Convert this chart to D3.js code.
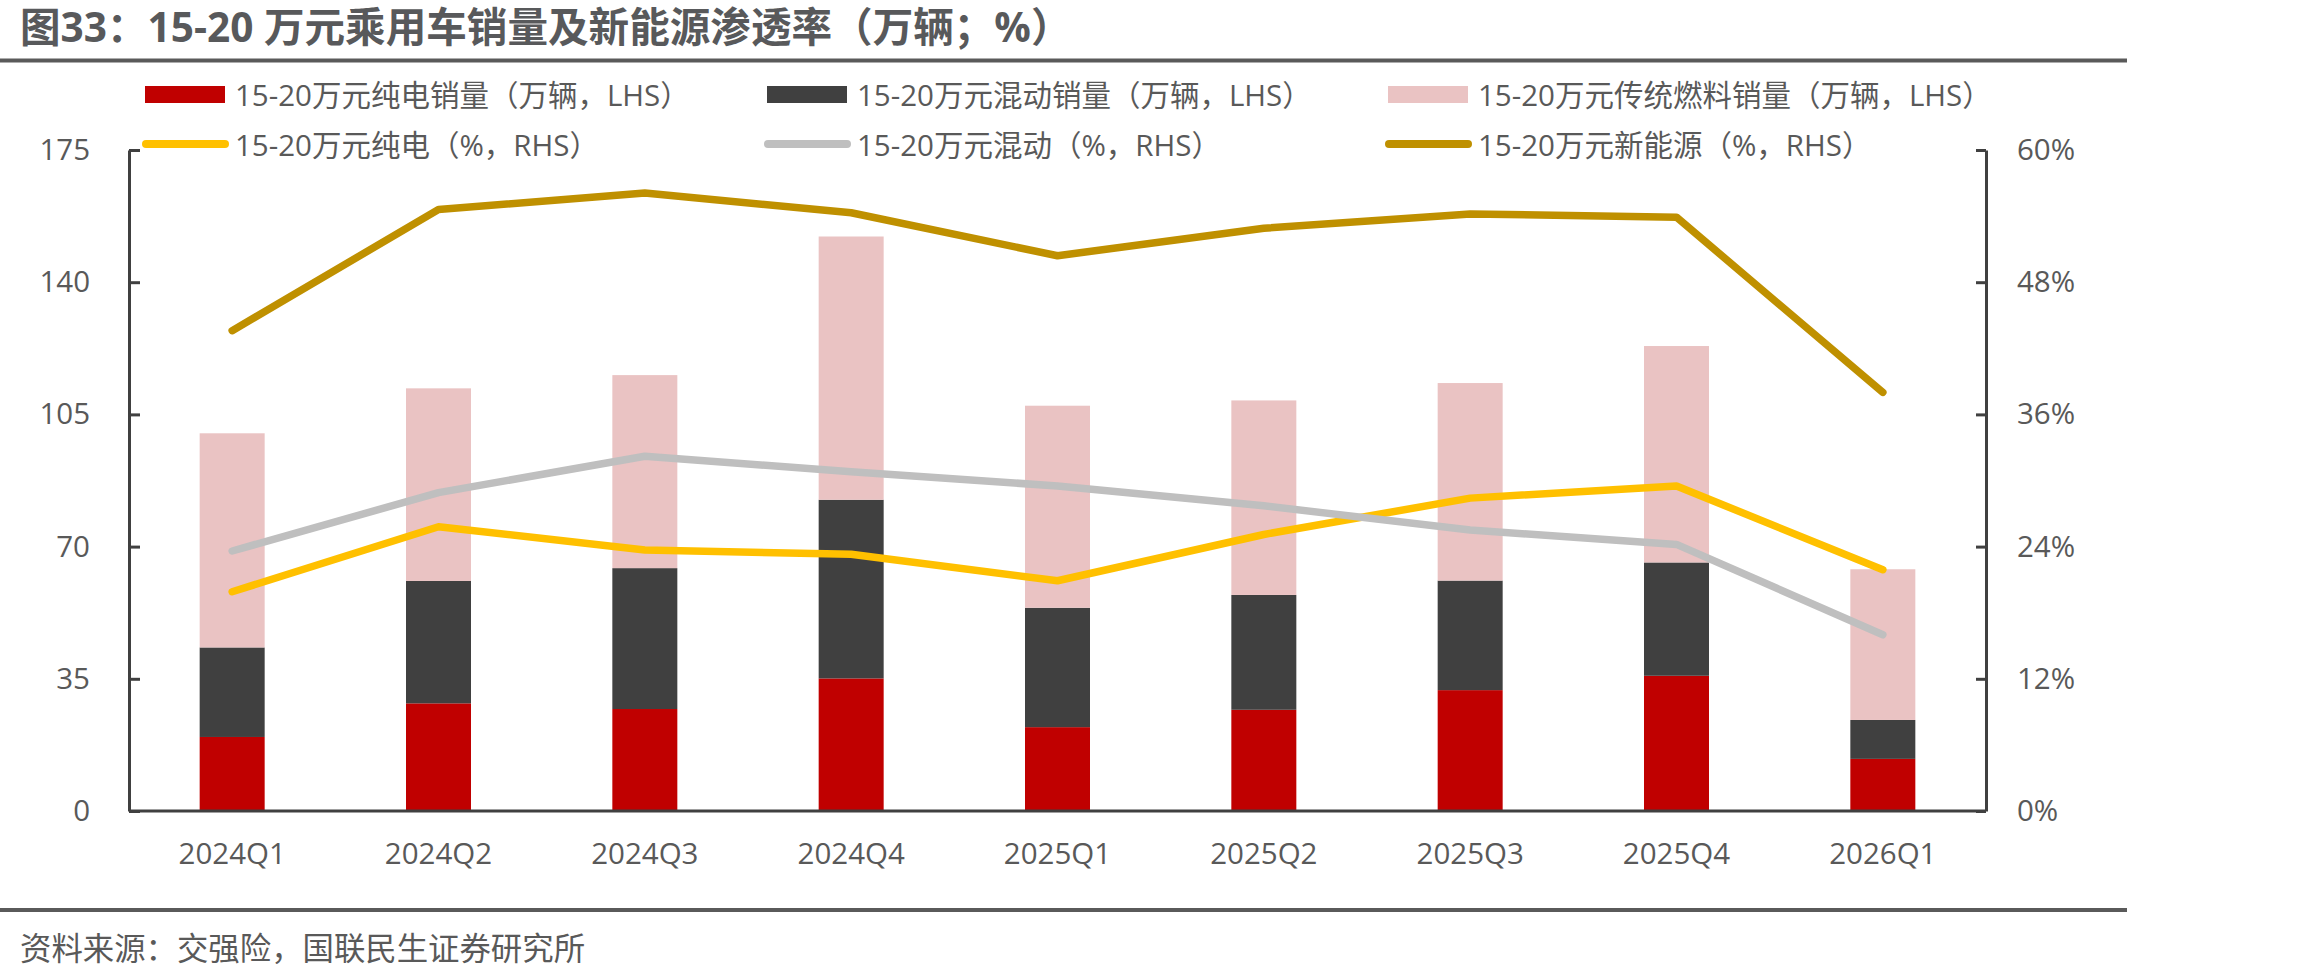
<!DOCTYPE html>
<html>
<head>
<meta charset="utf-8">
<script src="https://cdn.jsdelivr.net/npm/d3@7"></script>
<style>
  html, body { margin: 0; padding: 0; background: #fff; }
  svg { display: block; }
  text { font-family: "Open Sans", "Noto Sans CJK SC", sans-serif; fill: #595959; }
</style>
</head>
<body>
<svg id="chart" width="2310" height="977"></svg>
<script>
// ---------------- data ----------------
const categories = ["2024Q1","2024Q2","2024Q3","2024Q4","2025Q1","2025Q2","2025Q3","2025Q4","2026Q1"];
// sales, 万辆 (LHS)
const bevSales    = [19.6, 28.5, 27.0, 35.1, 22.2, 26.8, 32.0, 35.8, 13.8];
const hybridSales = [23.7, 32.4, 37.3, 47.3, 31.6, 30.4, 29.0, 30.0, 10.3];
const iceSales    = [56.7, 51.0, 51.1, 69.7, 53.5, 51.5, 52.3, 57.3, 39.9];
// penetration, % (RHS)
const bevShare    = [19.9, 25.8, 23.7, 23.3, 20.9, 25.1, 28.4, 29.5, 21.9];
const hybridShare = [23.6, 28.9, 32.2, 30.8, 29.5, 27.7, 25.5, 24.2, 16.0];
const nevShare    = [43.6, 54.6, 56.1, 54.3, 50.4, 52.9, 54.2, 53.9, 38.0];
// ticks
const leftTicks  = [0, 35, 70, 105, 140, 175];
const rightTicks = [0, 12, 24, 36, 48, 60];

const titleText  = "图33：15-20 万元乘用车销量及新能源渗透率（万辆；%）";
const sourceText = "资料来源：交强险，国联民生证券研究所";

const barSeries = [
  { key: "bev",    name: "15-20万元纯电销量（万辆，LHS）",     color: "#C00000", values: bevSales },
  { key: "hybrid", name: "15-20万元混动销量（万辆，LHS）",     color: "#404040", values: hybridSales },
  { key: "ice",    name: "15-20万元传统燃料销量（万辆，LHS）", color: "#EAC3C3", values: iceSales }
];
const lineSeries = [
  { key: "bevP",    name: "15-20万元纯电（%，RHS）",   color: "#FFC000", values: bevShare },
  { key: "hybridP", name: "15-20万元混动（%，RHS）",   color: "#BFBFBF", values: hybridShare },
  { key: "nevP",    name: "15-20万元新能源（%，RHS）", color: "#BF9000", values: nevShare }
];

// ---------------- layout ----------------
const svg = d3.select("#chart");
const plot = { left: 129, right: 1986, top: 150, bottom: 811 };

const x = d3.scaleBand().domain(categories)
  .range([plot.left, plot.right]).paddingInner(0.685).paddingOuter(0.3425);
const yL = d3.scaleLinear().domain([0, 175]).range([plot.bottom, plot.top]);
const yR = d3.scaleLinear().domain([0, 60]).range([plot.bottom, plot.top]);

// title & rules
svg.append("text").attr("x", 20).attr("y", 26).attr("dominant-baseline", "central")
  .style("font-size", "40.6px").style("font-weight", "bold").style("fill", "#58595b")
  .text(titleText);
svg.append("line").attr("x1", 0).attr("x2", 2127).attr("y1", 60.5).attr("y2", 60.5)
  .attr("stroke", "#5a5a5a").attr("stroke-width", 4);
svg.append("line").attr("x1", 0).attr("x2", 2127).attr("y1", 910).attr("y2", 910)
  .attr("stroke", "#5a5a5a").attr("stroke-width", 4);
svg.append("text").attr("x", 20).attr("y", 947).attr("dominant-baseline", "central")
  .style("font-size", "31.4px").text(sourceText);

// stacked bars
const rows = categories.map((c, i) => ({ cat: c, bev: bevSales[i], hybrid: hybridSales[i], ice: iceSales[i] }));
const stacked = d3.stack().keys(barSeries.map(s => s.key))(rows);
svg.append("g").selectAll("g").data(stacked).join("g")
  .attr("fill", (d, i) => barSeries[i].color)
  .selectAll("rect").data(d => d).join("rect")
  .attr("x", d => x(d.data.cat))
  .attr("width", x.bandwidth())
  .attr("y", d => yL(d[1]))
  .attr("height", d => yL(d[0]) - yL(d[1]));

// axes
function styleAxis(g) {
  g.selectAll(".domain, .tick line").attr("stroke", "#404040").attr("stroke-width", 3);
  g.selectAll("text").style("font-size", "29.5px").style("fill", "#595959")
    .attr("font-family", null);
}
svg.append("g").attr("transform", `translate(${plot.left},0)`)
  .call(d3.axisLeft(yL).tickValues(leftTicks).tickSize(-11).tickSizeOuter(0).tickPadding(39))
  .call(styleAxis);
svg.append("g").attr("transform", `translate(${plot.right},0)`)
  .call(d3.axisRight(yR).tickValues(rightTicks).tickSize(-10).tickSizeOuter(0).tickPadding(31)
    .tickFormat(d => d + "%"))
  .call(styleAxis);
const xAxis = svg.append("g").attr("transform", `translate(0,${plot.bottom})`)
  .call(d3.axisBottom(x).tickSize(0).tickSizeOuter(0).tickPadding(0))
  .call(styleAxis);
xAxis.selectAll("text").attr("y", 43).attr("dy", "0.35em");
xAxis.select(".domain").attr("d", `M${plot.left},0H${plot.right}`);

// lines
const cx = c => x(c) + x.bandwidth() / 2;
const lineGen = d3.line().x((v, i) => cx(categories[i])).y(v => yR(v));
svg.append("g").selectAll("path").data(lineSeries).join("path")
  .attr("d", s => lineGen(s.values))
  .attr("fill", "none").attr("stroke", s => s.color)
  .attr("stroke-width", 7.5).attr("stroke-linecap", "round").attr("stroke-linejoin", "round");

// legend
const legendCols = [145, 767, 1388];
const legendRows = [94.5, 144];
const lg = svg.append("g");
barSeries.forEach((s, i) => {
  const gx = legendCols[i], gy = legendRows[0];
  lg.append("rect").attr("x", gx).attr("y", gy - 8.5).attr("width", 80).attr("height", 17).attr("fill", s.color);
  lg.append("text").attr("x", gx + 90).attr("y", gy).attr("dominant-baseline", "central")
    .style("font-size", "29.5px").text(s.name);
});
lineSeries.forEach((s, i) => {
  const gx = legendCols[i], gy = legendRows[1];
  lg.append("line").attr("x1", gx + 1).attr("x2", gx + 80).attr("y1", gy).attr("y2", gy)
    .attr("stroke", s.color).attr("stroke-width", 8).attr("stroke-linecap", "round");
  lg.append("text").attr("x", gx + 90).attr("y", gy).attr("dominant-baseline", "central")
    .style("font-size", "29.5px").text(s.name);
});
</script>
</body>
</html>
